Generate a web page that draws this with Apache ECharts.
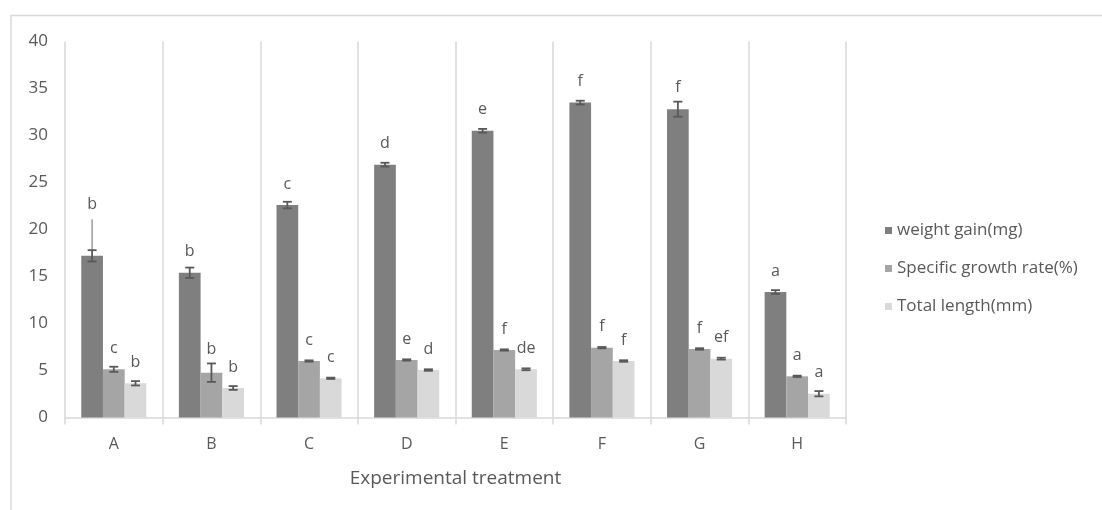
<!DOCTYPE html>
<html>
<head>
<meta charset="utf-8">
<script src="https://cdn.jsdelivr.net/npm/echarts@6/dist/echarts.min.js"></script>
<style>
html,body{margin:0;padding:0;background:#fff;}
#chart{width:1102px;height:510px;}
</style>
</head>
<body>
<div id="chart"></div>
<script>
const categories = ['A','B','C','D','E','F','G','H'];
const yTicks = [0,5,10,15,20,25,30,35,40];

const weightGain = [17.2, 15.4, 22.6, 26.9, 30.5, 33.5, 32.8, 13.35];
const weightErr  = [0.6, 0.55, 0.35, 0.2, 0.2, 0.2, 0.8, 0.2];
const weightWhisker = [21.1, null, null, null, null, null, null, null];
const weightLetters = ['b','b','c','d','e','f','f','a'];

const sgr = [5.13, 4.77, 6.01, 6.12, 7.18, 7.43, 7.29, 4.38];
const sgrErr = [0.27, 0.98, 0.07, 0.07, 0.07, 0.07, 0.08, 0.07];
const sgrLetters = ['c','b','c','e','f','f','f','a'];

const totalLength = [3.64, 3.14, 4.17, 5.05, 5.13, 6.01, 6.26, 2.53];
const tlErr = [0.23, 0.2, 0.07, 0.08, 0.1, 0.08, 0.1, 0.28];
const tlLetters = ['b','b','c','d','de','f','ef','a'];

const seriesNames = ['weight gain(mg)','Specific growth rate(%)','Total length(mm)'];
const colors = ['#7f7f7f','#a5a5a5','#d9d9d9'];
const FONT = '"Open Sans", "Noto Sans", sans-serif';
const TXT = '#595959';
const BW = 21.7;

const groups = [
  {vals: weightGain, err: weightErr, whisker: weightWhisker, letters: weightLetters},
  {vals: sgr, err: sgrErr, whisker: null, letters: sgrLetters},
  {vals: totalLength, err: tlErr, whisker: null, letters: tlLetters}
];

function makeErr(gi){
  const g = groups[gi];
  return {
    type: 'custom',
    name: 'err' + gi,
    z: 5,
    silent: true,
    data: categories.map((c, i) => [i, g.vals[i], g.err[i]]),
    encode: {x: 0, y: 1},
    renderItem: function(params, api){
      const i = params.dataIndex;
      const v = g.vals[i], e = g.err[i];
      const cx = api.coord([i, 0])[0] + (gi - 1) * BW;
      const yTop = api.coord([i, v])[1];
      const yHi = api.coord([i, v + e])[1];
      const yLo = api.coord([i, v - e])[1];
      const cap = 4.5;
      const st = {stroke: '#595959', lineWidth: 1.8};
      const children = [
        {type: 'line', shape: {x1: cx, y1: yHi, x2: cx, y2: yLo}, style: st},
        {type: 'line', shape: {x1: cx - cap, y1: yHi, x2: cx + cap, y2: yHi}, style: st},
        {type: 'line', shape: {x1: cx - cap, y1: yLo, x2: cx + cap, y2: yLo}, style: st}
      ];
      let labelY = Math.min(yTop - 21, yHi - 14);
      if (g.whisker && g.whisker[i] != null) {
        const yW = api.coord([i, g.whisker[i]])[1];
        children.unshift({type: 'line', shape: {x1: cx, y1: yW, x2: cx, y2: yHi}, style: {stroke: '#a0a0a0', lineWidth: 1.6}});
        labelY = Math.min(labelY, yW - 15);
      }
      children.push({
        type: 'text',
        style: {
          text: g.letters[i], x: cx, y: labelY,
          align: 'center', verticalAlign: 'middle',
          fill: TXT, font: '16px ' + FONT
        }
      });
      return {type: 'group', children: children};
    }
  };
}

const chart = echarts.init(document.getElementById('chart'), null, {renderer: 'canvas'});
chart.setOption({
  animation: false,
  backgroundColor: '#fff',
  textStyle: {fontFamily: FONT},
  graphic: [{
    type: 'rect', silent: true, z: -10,
    shape: {x: 11, y: 15.5, width: 1200, height: 600},
    style: {fill: 'none', stroke: '#d9d9d9', lineWidth: 1.5}
  }],
  grid: {left: 65, right: 256, top: 41.5, bottom: 92.5, containLabel: false},
  legend: {
    orient: 'vertical',
    left: 880, top: 217,
    itemWidth: 7, itemHeight: 7,
    itemGap: 21,
    icon: 'rect',
    data: seriesNames,
    textStyle: {color: TXT, fontSize: 17, fontFamily: FONT}
  },
  xAxis: {
    type: 'category',
    data: categories,
    name: 'Experimental treatment',
    nameLocation: 'middle',
    nameGap: 52,
    nameTextStyle: {color: TXT, fontSize: 19, fontFamily: FONT},
    axisLine: {show: true, lineStyle: {color: '#d9d9d9', width: 1.5}},
    axisTick: {show: true, length: 7, lineStyle: {color: '#d9d9d9', width: 1.5}},
    splitLine: {show: true, lineStyle: {color: '#d9d9d9', width: 1.5}},
    axisLabel: {color: TXT, fontSize: 16, margin: 19, fontFamily: FONT}
  },
  yAxis: {
    type: 'value',
    min: 0, max: 40, interval: 5,
    axisLine: {show: false},
    axisTick: {show: false},
    splitLine: {show: false},
    axisLabel: {color: TXT, fontSize: 17, margin: 17, fontFamily: FONT,
      formatter: v => yTicks.includes(v) ? String(v) : ''}
  },
  series: [
    {type: 'bar', name: seriesNames[0], data: weightGain, barWidth: BW, barGap: '0%', itemStyle: {color: colors[0]}},
    {type: 'bar', name: seriesNames[1], data: sgr, barWidth: BW, barGap: '0%', itemStyle: {color: colors[1]}},
    {type: 'bar', name: seriesNames[2], data: totalLength, barWidth: BW, barGap: '0%', itemStyle: {color: colors[2]}},
    makeErr(0), makeErr(1), makeErr(2)
  ]
});
</script>
</body>
</html>
